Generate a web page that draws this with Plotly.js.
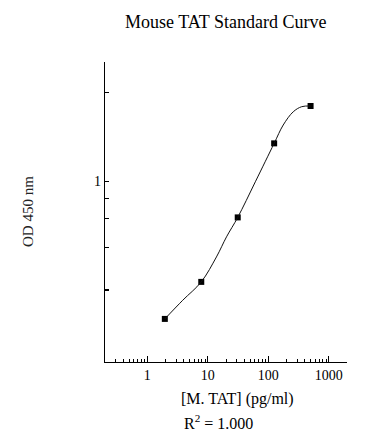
<!DOCTYPE html>
<html>
<head>
<meta charset="utf-8">
<script src="https://cdn.plot.ly/plotly-3.0.1.min.js"></script>
<style>html,body{margin:0;padding:0;background:#fff;}#chart{width:388px;height:444px;}</style>
</head>
<body>
<div id="chart"></div>
<script>
// Standard points (concentration pg/ml, OD 450 nm)
const concentrations = [1.95, 7.8, 31.25, 125, 500];
const odValues = [0.3435, 0.458, 0.756, 1.344, 1.797];

// Fitted curve
const fitX = [1.95, 3.85, 7.8, 13.9, 20.4, 31.25, 61.1, 125, 176.6, 258.6, 356, 500];
const fitY = [0.3435, 0.397, 0.458, 0.556, 0.650, 0.756, 0.997, 1.344, 1.550, 1.718, 1.787, 1.797];

// Tick labels
const xTickVals = [1, 10, 100, 1000];
const xTickText = ['1', '10', '100', '1000'];
const xMinorVals = [0.2,0.3,0.4,0.5,0.6,0.7,0.8,0.9,2,3,4,5,6,7,8,9,20,30,40,50,60,70,80,90,200,300,400,500,600,700,800,900,2000];
const yTickVals = [1];
const yTickText = ['1'];
const yOtherTicks = [0.43, 0.6, 0.75, 0.875, 2];

const serif = 'Liberation Serif, Times New Roman, serif';
const yRange = [-0.6095, 0.403];

const traces = [
  {
    x: fitX, y: fitY, type: 'scatter', mode: 'lines', yaxis: 'y2',
    line: {color: '#111', width: 1, shape: 'spline', smoothing: 1},
    hoverinfo: 'skip', showlegend: false
  },
  {
    x: concentrations, y: odValues, type: 'scatter', mode: 'markers',
    marker: {symbol: 'square', size: 6, color: '#000'},
    showlegend: false
  }
];

const layout = {
  width: 388, height: 444,
  margin: {l: 105, r: 41, t: 62, b: 82, pad: 0},
  paper_bgcolor: '#fff', plot_bgcolor: '#fff',
  font: {family: serif, color: '#000', size: 14},
  showlegend: false,
  xaxis: {
    type: 'log', range: [Math.log10(0.2), Math.log10(2000)],
    tickmode: 'array', tickvals: xTickVals, ticktext: xTickText,
    ticks: 'inside', ticklen: 6, tickwidth: 1, tickcolor: '#000',
    showline: true, linecolor: '#000', linewidth: 1.3, mirror: false,
    showgrid: false, zeroline: false,
    tickfont: {family: serif, size: 14, color: '#000'},
    minor: {tickmode: 'array', tickvals: xMinorVals, ticks: 'inside', ticklen: 3, tickwidth: 1, tickcolor: '#000', showgrid: false}
  },
  yaxis: {
    type: 'log', range: yRange,
    tickmode: 'array', tickvals: yTickVals, ticktext: yTickText,
    ticks: 'inside', ticklen: 4, tickwidth: 1.2, tickcolor: '#000',
    showline: true, linecolor: '#000', linewidth: 1.3, mirror: false,
    showgrid: false, zeroline: false,
    tickfont: {family: serif, size: 14, color: '#000'}
  },
  yaxis2: {
    type: 'log', range: yRange, overlaying: 'y', side: 'left',
    tickmode: 'array', tickvals: yOtherTicks,
    ticks: 'inside', ticklen: 4, tickwidth: 1.2, tickcolor: '#000',
    showticklabels: false, showline: false, showgrid: false, zeroline: false
  },
  annotations: [
    {text: 'Mouse TAT Standard Curve', xref: 'paper', yref: 'paper', x: (225 - 105) / 242, y: 1 + (62 - 22) / 300,
     xanchor: 'center', yanchor: 'middle', showarrow: false, font: {family: serif, size: 18, color: '#000'}},
    {text: '[M. TAT] (pg/ml)', xref: 'paper', yref: 'paper', x: (237 - 105) / 242, y: -(399 - 362) / 300,
     xanchor: 'center', yanchor: 'middle', showarrow: false, font: {family: serif, size: 16, color: '#000'}},
    {text: 'R<sup>2</sup> = 1.000', xref: 'paper', yref: 'paper', x: (218 - 105) / 242, y: -(422 - 362) / 300,
     xanchor: 'center', yanchor: 'middle', showarrow: false, font: {family: serif, size: 16, color: '#000'}},
    {text: 'OD 450 nm', xref: 'paper', yref: 'paper', x: -(105 - 28) / 242, y: (362 - 212) / 300,
     xanchor: 'center', yanchor: 'middle', textangle: -90, showarrow: false, font: {family: serif, size: 15, color: '#222'}}
  ]
};

Plotly.newPlot('chart', traces, layout, {staticPlot: true, displayModeBar: false});
</script>
</body>
</html>
